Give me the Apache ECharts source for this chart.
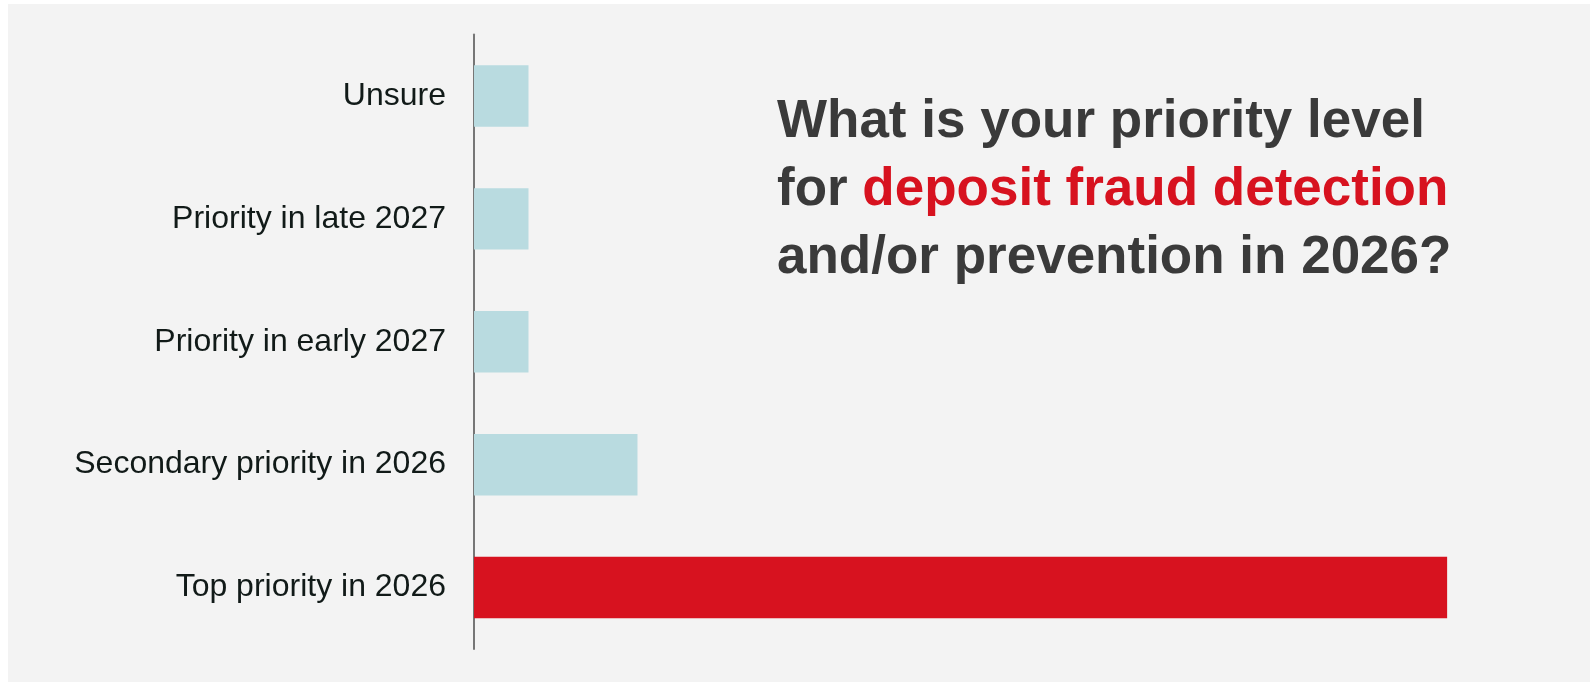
<!DOCTYPE html>
<html>
<head>
<meta charset="utf-8">
<script src="https://cdn.jsdelivr.net/npm/echarts@6/dist/echarts.min.js"></script>
<style>
    body { margin: 0; background: #ffffff; }
    #chartmain { width: 1590px; height: 682px; }
</style>
</head>
<body>
<div id="chartmain"></div>
<script>
// categories go bottom -> top on the category axis
var categories = ['Top priority in 2026', 'Secondary priority in 2026', 'Priority in early 2027', 'Priority in late 2027', 'Unsure'];
var values = [75, 12.6, 4.2, 4.2, 4.2];
var barColors = ['#d7121f', '#b9dbe0', '#b9dbe0', '#b9dbe0', '#b9dbe0'];

var titleLine1 = 'What is your priority level';
var titleLine2a = 'for ';
var titleLine2b = 'deposit fraud detection';
var titleLine3 = 'and/or prevention in 2026?';

var myChart = echarts.init(document.getElementById('chartmain'));

var barData = values.map(function (v, i) {
    return { value: v, itemStyle: { color: barColors[i] } };
});

var option = {
    animation: false,
    backgroundColor: '#ffffff',
    graphic: [{
        type: 'rect',
        left: 8,
        top: 4,
        z: -10,
        shape: { width: 1582, height: 678 },
        style: { fill: '#f3f3f3' }
    }],
    title: {
        left: 777,
        top: 88,
        padding: 0,
        text: '{a|' + titleLine1 + '}\n{a|' + titleLine2a + '}{b|' + titleLine2b + '}\n{a|' + titleLine3 + '}',
        textStyle: {
            rich: {
                a: { fontFamily: 'Liberation Sans', fontSize: 53, fontWeight: 'bold', color: '#3a3a3a', lineHeight: 68 },
                b: { fontFamily: 'Liberation Sans', fontSize: 53, fontWeight: 'bold', color: '#d7121f', lineHeight: 68 }
            }
        }
    },
    grid: {
        left: 474,
        right: 78,
        top: 34.5,
        bottom: 33,
        containLabel: false
    },
    xAxis: {
        type: 'value',
        min: 0,
        max: 80,
        show: false
    },
    yAxis: {
        type: 'category',
        data: categories,
        axisLine: { lineStyle: { color: '#767676', width: 2 } },
        axisTick: { show: false },
        axisLabel: {
            margin: 28,
            fontFamily: 'Liberation Sans',
            fontSize: 32,
            color: '#111a18'
        }
    },
    series: [{
        type: 'bar',
        data: barData,
        barCategoryGap: '50%'
    }]
};

myChart.setOption(option);
</script>
</body>
</html>
